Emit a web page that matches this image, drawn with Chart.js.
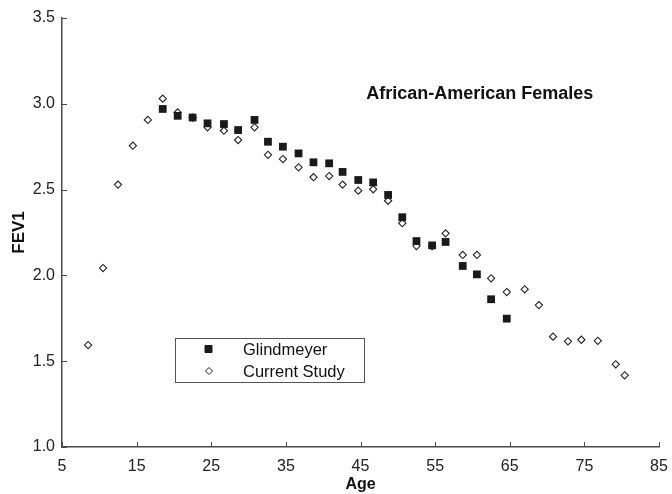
<!DOCTYPE html>
<html>
<head>
<meta charset="utf-8">
<script src="https://cdn.jsdelivr.net/npm/chart.js@4"></script>
<style>
  html, body { margin: 0; padding: 0; background: #fff; }
  #wrap { width: 672px; height: 494px; }
</style>
</head>
<body>
<div id="wrap"><canvas id="fevChart" width="672" height="494"></canvas></div>
<script>
// Glindmeyer (filled squares)
const glindAges = [18.5, 20.5, 22.5, 24.5, 26.7, 28.6, 30.8, 32.6, 34.6, 36.7, 38.7, 40.8,
  42.6, 44.7, 46.7, 48.7, 50.6, 52.5, 54.6, 56.4, 58.7, 60.6, 62.5, 64.6];
const glindFev = [2.97, 2.93, 2.92, 2.886, 2.882, 2.847, 2.906, 2.779, 2.75, 2.711, 2.659, 2.653,
  2.603, 2.556, 2.542, 2.469, 2.339, 2.20, 2.175, 2.195, 2.055, 2.006, 1.861, 1.748];

// Current study (open diamonds)
const currentAges = [8.5, 10.5, 12.5, 14.5, 16.5, 18.5, 20.5, 22.5, 24.5, 26.7, 28.6, 30.8,
  32.6, 34.6, 36.7, 38.7, 40.8, 42.6, 44.7, 46.7, 48.7, 50.6, 52.5, 54.6, 56.4, 58.7, 60.6,
  62.5, 64.6, 67.0, 68.9, 70.8, 72.8, 74.6, 76.8, 79.2, 80.4];
const currentFev = [1.594, 2.043, 2.529, 2.756, 2.906, 3.03, 2.95, 2.92, 2.863, 2.843, 2.789, 2.863,
  2.703, 2.678, 2.63, 2.572, 2.579, 2.529, 2.494, 2.502, 2.435, 2.304, 2.171, 2.17, 2.245, 2.119, 2.119,
  1.983, 1.903, 1.919, 1.827, 1.643, 1.616, 1.625, 1.619, 1.482, 1.418];

const xTicks = [5, 15, 25, 35, 45, 55, 65, 75, 85];
const yTicks = [1.0, 1.5, 2.0, 2.5, 3.0, 3.5];

const seriesNames = ['Glindmeyer', 'Current Study'];
const panelTitle = 'African-American Females';

const FONT = '"Liberation Sans", Arial, Helvetica, sans-serif';
const AXIS_COLOR = '#4a4a4a';

function toPoints(xs, ys) {
  return xs.map((x, i) => ({ x: x, y: ys[i] }));
}

// inward tick marks, panel title and boxed legend
const extrasPlugin = {
  id: 'extras',
  afterDraw(chart) {
    const ctx = chart.ctx;
    const xs = chart.scales.x;
    const ys = chart.scales.y;
    const area = chart.chartArea;

    ctx.save();
    ctx.strokeStyle = AXIS_COLOR;
    ctx.lineWidth = 1;
    xTicks.forEach(v => {
      const px = Math.round(xs.getPixelForValue(v)) + 0.5;
      ctx.beginPath();
      ctx.moveTo(px, area.bottom);
      ctx.lineTo(px, area.bottom - 5);
      ctx.stroke();
    });
    yTicks.forEach(v => {
      const py = Math.round(ys.getPixelForValue(v)) + 0.5;
      ctx.beginPath();
      ctx.moveTo(area.left, py);
      ctx.lineTo(area.left + 5, py);
      ctx.stroke();
    });

    // panel title, right end near age 76
    ctx.fillStyle = '#111';
    ctx.font = 'bold 18px ' + FONT;
    ctx.textAlign = 'right';
    ctx.textBaseline = 'middle';
    ctx.fillText(panelTitle, xs.getPixelForValue(76.2), ys.getPixelForValue(3.0) - 10);

    // legend box
    const boxL = 175, boxT = 338, boxW = 189, boxH = 44;
    ctx.strokeStyle = '#555';
    ctx.lineWidth = 1;
    ctx.strokeRect(boxL + 0.5, boxT + 0.5, boxW, boxH);
    ctx.font = '16.5px ' + FONT;
    ctx.textAlign = 'left';
    const rows = [boxT + 11, boxT + 33];
    chart.data.datasets.forEach((ds, i) => {
      const cy = rows[i];
      ctx.fillStyle = ds.backgroundColor;
      ctx.strokeStyle = ds.borderColor;
      ctx.lineWidth = 1;
      ctx.beginPath();
      if (i === 0) {
        ctx.rect(boxL + 30, cy - 3.5, 7, 7);
      } else {
        ctx.moveTo(boxL + 30.5, cy);
        ctx.lineTo(boxL + 34, cy - 3.5);
        ctx.lineTo(boxL + 37.5, cy);
        ctx.lineTo(boxL + 34, cy + 3.5);
        ctx.closePath();
      }
      ctx.fill();
      ctx.stroke();
      ctx.fillStyle = '#111';
      ctx.fillText(ds.label, boxL + 68, cy + 1);
    });
    ctx.restore();
  }
};

new Chart(document.getElementById('fevChart'), {
  type: 'scatter',
  data: {
    datasets: [
      {
        label: seriesNames[0],
        data: toPoints(glindAges, glindFev),
        pointStyle: 'rect',
        pointRadius: 5.5,
        backgroundColor: '#1a1a1a',
        borderColor: '#1a1a1a',
        borderWidth: 0
      },
      {
        label: seriesNames[1],
        data: toPoints(currentAges, currentFev),
        pointStyle: 'rectRot',
        pointRadius: 3.6,
        backgroundColor: '#ffffff',
        borderColor: '#222222',
        borderWidth: 1.1
      }
    ]
  },
  options: {
    responsive: false,
    animation: false,
    events: [],
    layout: { padding: { top: 18, right: 13, left: 0, bottom: 0 } },
    plugins: {
      legend: { display: false },
      tooltip: { enabled: false }
    },
    scales: {
      x: {
        type: 'linear',
        min: 5,
        max: 85,
        afterFit: s => { s.height = 47; s.paddingLeft = 0; s.paddingRight = 0; },
        afterBuildTicks: s => { s.ticks = xTicks.map(v => ({ value: v })); },
        grid: { display: true, drawOnChartArea: false, drawTicks: false },
        border: { display: true, color: AXIS_COLOR, width: 1.5 },
        ticks: {
          color: '#222',
          padding: 10,
          maxRotation: 0,
          font: { family: FONT, size: 16 }
        },
        title: {
          display: true,
          text: 'Age',
          color: '#111',
          padding: { top: 0, bottom: 0 },
          font: { family: FONT, size: 16, weight: 'bold' }
        }
      },
      y: {
        type: 'linear',
        min: 1.0,
        max: 3.5,
        afterFit: s => { s.width = 62; s.paddingTop = 0; s.paddingBottom = 0; },
        afterBuildTicks: s => { s.ticks = yTicks.map(v => ({ value: v })); },
        grid: { display: true, drawOnChartArea: false, drawTicks: false },
        border: { display: true, color: AXIS_COLOR, width: 1.5 },
        ticks: {
          color: '#222',
          padding: 7,
          font: { family: FONT, size: 16 },
          callback: v => v.toFixed(1)
        },
        title: {
          display: true,
          text: 'FEV1',
          color: '#111',
          padding: { top: 9, bottom: 0 },
          font: { family: FONT, size: 17, weight: 'bold' }
        }
      }
    }
  },
  plugins: [extrasPlugin]
});
</script>
</body>
</html>
